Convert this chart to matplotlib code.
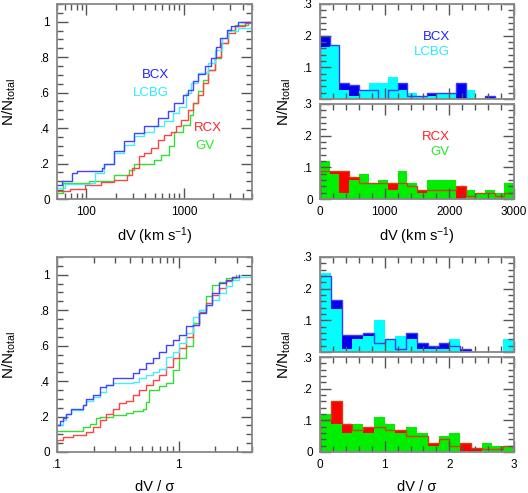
import numpy as np
import matplotlib
matplotlib.use('Agg')
import matplotlib.pyplot as plt
from matplotlib.ticker import MultipleLocator, LogLocator, FuncFormatter, NullFormatter

plt.rcParams['font.family'] = ['Liberation Sans', 'DejaVu Sans']
plt.rcParams['mathtext.fontset'] = 'custom'
plt.rcParams['mathtext.rm'] = 'Liberation Sans'
plt.rcParams['mathtext.it'] = 'Liberation Sans:italic'
plt.rcParams['mathtext.default'] = 'regular'

# ---------------- data: cumulative distributions vs dV (km/s) ----------------
cdf_dv_bcx_x = [50, 56.5, 71, 81, 114, 145, 151, 192, 244, 309, 392, 539, 684, 800, 977, 1100, 1240, 1400, 1640, 1920, 2160, 2340, 2740, 3080, 3610, 5000]
cdf_dv_bcx_y = [0.08, 0.10, 0.147, 0.158, 0.16, 0.175, 0.20, 0.27, 0.325, 0.37, 0.41, 0.457, 0.494, 0.54, 0.588, 0.617, 0.664, 0.707, 0.748, 0.795, 0.86, 0.908, 0.955, 0.977, 0.996, 1.0]
cdf_dv_lcbg_x = [50, 60.6, 110, 124, 151, 192, 244, 309, 392, 498, 632, 770, 902, 1058, 1191, 1400, 1770, 2080, 2440, 2850, 3610, 4970]
cdf_dv_lcbg_y = [0.062, 0.086, 0.09, 0.147, 0.20, 0.26, 0.306, 0.353, 0.38, 0.41, 0.438, 0.485, 0.52, 0.598, 0.654, 0.71, 0.767, 0.84, 0.908, 0.945, 0.966, 0.98]
cdf_dv_rcx_x = [50, 68, 98, 140, 192, 263, 297, 348, 392, 460, 539, 632, 741, 833, 939, 1100, 1240, 1400, 1574, 1772, 2076, 2432, 2850, 3340, 4235, 4970]
cdf_dv_rcx_y = [0.043, 0.056, 0.08, 0.094, 0.11, 0.137, 0.175, 0.24, 0.26, 0.29, 0.335, 0.36, 0.38, 0.41, 0.447, 0.504, 0.54, 0.588, 0.654, 0.73, 0.80, 0.88, 0.936, 0.974, 0.992, 1.0]
cdf_dv_gv_x = [50, 58, 106, 192, 274, 309, 498, 584, 711, 800, 977, 1145, 1240, 1400, 1574, 1772, 2076, 2432, 2850, 3340, 4590]
cdf_dv_gv_y = [0.034, 0.09, 0.10, 0.137, 0.165, 0.20, 0.22, 0.25, 0.30, 0.38, 0.42, 0.475, 0.54, 0.607, 0.673, 0.73, 0.795, 0.88, 0.955, 0.983, 0.996]

# ---------------- data: cumulative distributions vs dV/sigma ----------------
cdf_s_bcx_x = [0.1, 0.105, 0.112, 0.119, 0.131, 0.163, 0.174, 0.197, 0.224, 0.254, 0.288, 0.370, 0.419, 0.475, 0.539, 0.611, 0.693, 0.786, 0.891, 1.01, 1.145, 1.298, 1.472, 1.669, 1.892, 2.145, 2.43, 2.76, 3.13]
cdf_s_bcx_y = [0.151, 0.175, 0.19, 0.217, 0.24, 0.264, 0.30, 0.32, 0.368, 0.377, 0.415, 0.419, 0.443, 0.47, 0.50, 0.528, 0.566, 0.604, 0.632, 0.66, 0.708, 0.717, 0.783, 0.83, 0.896, 0.953, 0.972, 0.99, 1.0]
cdf_s_lcbg_x = [0.1, 0.112, 0.119, 0.131, 0.163, 0.174, 0.197, 0.224, 0.254, 0.288, 0.419, 0.475, 0.539, 0.611, 0.693, 0.786, 0.891, 1.01, 1.145, 1.298, 1.472, 1.669, 1.892, 2.145, 2.43, 2.76, 3.13, 3.9]
cdf_s_lcbg_y = [0.151, 0.18, 0.217, 0.236, 0.264, 0.29, 0.31, 0.34, 0.377, 0.387, 0.396, 0.415, 0.434, 0.453, 0.47, 0.538, 0.566, 0.613, 0.67, 0.764, 0.80, 0.83, 0.858, 0.896, 0.934, 0.972, 0.99, 0.994]
cdf_s_rcx_x = [0.1, 0.112, 0.135, 0.174, 0.197, 0.224, 0.254, 0.288, 0.326, 0.370, 0.419, 0.475, 0.539, 0.611, 0.693, 0.786, 0.891, 1.01, 1.145, 1.298, 1.472, 1.669, 1.892, 2.145, 2.43, 2.76, 3.13]
cdf_s_rcx_y = [0.07, 0.085, 0.094, 0.113, 0.14, 0.18, 0.217, 0.245, 0.274, 0.29, 0.32, 0.35, 0.377, 0.406, 0.434, 0.48, 0.528, 0.585, 0.65, 0.717, 0.79, 0.84, 0.887, 0.925, 0.962, 0.987, 1.0]
cdf_s_gv_x = [0.1, 0.163, 0.185, 0.210, 0.224, 0.288, 0.370, 0.419, 0.506, 0.539, 0.574, 0.693, 0.786, 0.891, 1.01, 1.145, 1.298, 1.472, 1.669, 1.892, 2.145, 2.43, 2.94]
cdf_s_gv_y = [0.12, 0.14, 0.16, 0.19, 0.20, 0.21, 0.22, 0.23, 0.24, 0.28, 0.35, 0.37, 0.39, 0.46, 0.53, 0.60, 0.73, 0.80, 0.88, 0.94, 0.96, 0.98, 1.0]

# ---------------- data: histograms vs dV (bins of 150 km/s) ----------------
hist_dv_edges = np.linspace(0, 3000, 21)
hist_dv_bcx = [0.20, 0.17, 0.05, 0.043, 0.03, 0.03, 0.0, 0.03, 0.05, 0.01, 0.01, 0.02, 0.02, 0.02, 0.05, 0.0, 0.0, 0.01, 0.0, 0.0]
hist_dv_lcbg = [0.165, 0.17, 0.03, 0.01, 0.03, 0.05, 0.05, 0.07, 0.03, 0.02, 0.01, 0.01, 0.02, 0.02, 0.0, 0.03, 0.0, 0.0, 0.0, 0.0]
hist_dv_rcx = [0.09, 0.09, 0.09, 0.07, 0.05, 0.05, 0.05, 0.05, 0.05, 0.04, 0.03, 0.03, 0.03, 0.03, 0.04, 0.01, 0.02, 0.02, 0.01, 0.02]
hist_dv_gv = [0.12, 0.08, 0.02, 0.06, 0.08, 0.05, 0.06, 0.03, 0.09, 0.05, 0.02, 0.06, 0.06, 0.06, 0.0, 0.03, 0.02, 0.03, 0.02, 0.05]

# ---------------- data: histograms vs dV/sigma (bins of 1/6) ----------------
hist_s_edges = np.linspace(0, 3, 19)
hist_s_bcx = [0.24, 0.165, 0.055, 0.055, 0.06, 0.03, 0.04, 0.01, 0.06, 0.03, 0.02, 0.03, 0.02, 0.01, 0.0, 0.0, 0.0, 0.0]
hist_s_lcbg = [0.25, 0.135, 0.01, 0.04, 0.05, 0.10, 0.04, 0.05, 0.04, 0.01, 0.01, 0.01, 0.04, 0.0, 0.0, 0.0, 0.0, 0.04]
hist_s_rcx = [0.10, 0.16, 0.09, 0.07, 0.08, 0.08, 0.07, 0.07, 0.05, 0.05, 0.03, 0.04, 0.02, 0.03, 0.012, 0.01, 0.01, 0.02]
hist_s_gv = [0.12, 0.09, 0.06, 0.09, 0.06, 0.11, 0.09, 0.06, 0.08, 0.06, 0.02, 0.05, 0.06, 0.0, 0.0, 0.03, 0.02, 0.02]

# ---------------- styling ----------------
C_BLUE_LINE = '#4444ff'
C_CYAN_LINE = '#44eeff'
C_RED_LINE = '#ff4444'
C_GREEN_LINE = '#33dd33'
C_BLUE = '#0000ee'
C_CYAN = '#00ffff'
C_RED = '#ff0000'
C_GREEN = '#00ee00'
C_BLUE_OUT = '#3a3aff'
C_RED_OUT = '#cc4411'

W, H = 528, 493
fig = plt.figure(figsize=(W / 100, H / 100), dpi=100)


def px_axes(x0, y0, x1, y1):
    return fig.add_axes([x0 / W, 1 - y1 / H, (x1 - x0) / W, (y1 - y0) / H])


def fmt(v, p):
    if abs(v) < 1e-12:
        return '0'
    s = '%g' % v
    if s.startswith('0.'):
        s = s[1:]
    return s


def style(ax):
    ax.tick_params(which='both', direction='in', top=True, right=True,
                   color='#555555', labelsize=8.5, pad=5)
    ax.tick_params(which='major', length=8, width=1)
    ax.tick_params(which='minor', length=4.5, width=1)
    for s in ax.spines.values():
        s.set_color('#888888')
        s.set_linewidth(1.3)


# ---- top-left CDF vs dV ----
ax1 = px_axes(57, 4, 252, 199)
for xs, ys, c in [(cdf_dv_gv_x, cdf_dv_gv_y, C_GREEN_LINE),
                  (cdf_dv_rcx_x, cdf_dv_rcx_y, C_RED_LINE),
                  (cdf_dv_lcbg_x, cdf_dv_lcbg_y, C_CYAN_LINE),
                  (cdf_dv_bcx_x, cdf_dv_bcx_y, C_BLUE_LINE)]:
    ax1.step(xs, ys, where='post', color=c, lw=1.0)
ax1.set_xscale('log')
ax1.set_xlim(50, 5000)
ax1.set_ylim(0, 1.1)
ax1.xaxis.set_major_locator(LogLocator(base=10, numticks=10))
ax1.xaxis.set_minor_locator(LogLocator(base=10, subs=np.arange(2, 10), numticks=20))
ax1.xaxis.set_major_formatter(FuncFormatter(fmt))
ax1.xaxis.set_minor_formatter(NullFormatter())
ax1.yaxis.set_major_locator(MultipleLocator(0.2))
ax1.yaxis.set_minor_locator(MultipleLocator(0.05))
ax1.yaxis.set_major_formatter(FuncFormatter(fmt))
style(ax1)
ax1.text(0.574, 0.636, 'BCX', color='#2222ff', fontsize=9.5, ha='right', va='center', transform=ax1.transAxes)
ax1.text(0.574, 0.544, 'LCBG', color='#22eeff', fontsize=9.5, ha='right', va='center', transform=ax1.transAxes)
ax1.text(0.703, 0.364, 'RCX', color='#ff2222', fontsize=9.5, ha='left', va='center', transform=ax1.transAxes)
ax1.text(0.708, 0.272, 'GV', color='#22ee22', fontsize=9.5, ha='left', va='center', transform=ax1.transAxes)

# ---- bottom-left CDF vs dV/sigma ----
ax3 = px_axes(57, 257, 252, 452)
for xs, ys, c in [(cdf_s_gv_x, cdf_s_gv_y, C_GREEN_LINE),
                  (cdf_s_rcx_x, cdf_s_rcx_y, C_RED_LINE),
                  (cdf_s_lcbg_x, cdf_s_lcbg_y, C_CYAN_LINE),
                  (cdf_s_bcx_x, cdf_s_bcx_y, C_BLUE_LINE)]:
    ax3.step(xs, ys, where='post', color=c, lw=1.0)
ax3.set_xscale('log')
ax3.set_xlim(0.1, 4)
ax3.set_ylim(0, 1.1)
ax3.xaxis.set_major_locator(LogLocator(base=10, numticks=10))
ax3.xaxis.set_minor_locator(LogLocator(base=10, subs=np.arange(2, 10), numticks=20))
ax3.xaxis.set_major_formatter(FuncFormatter(fmt))
ax3.xaxis.set_minor_formatter(NullFormatter())
ax3.yaxis.set_major_locator(MultipleLocator(0.2))
ax3.yaxis.set_minor_locator(MultipleLocator(0.05))
ax3.yaxis.set_major_formatter(FuncFormatter(fmt))
style(ax3)


def hist_pair(ax, edges, under, over, outline, c_under, c_over, c_out):
    ax.stairs(under, edges, fill=True, color=c_under, lw=0)
    ax.stairs(over, edges, fill=True, color=c_over, lw=0)
    ax.stairs(outline, edges, color=c_out, lw=1.0)


def hist_axes(ax, xmax, major, minor, show_x, show_zero):
    ax.set_xlim(0, xmax)
    ax.set_ylim(0, 0.3)
    ax.xaxis.set_major_locator(MultipleLocator(major))
    ax.xaxis.set_minor_locator(MultipleLocator(minor))
    ax.yaxis.set_major_locator(MultipleLocator(0.1))
    ax.yaxis.set_minor_locator(MultipleLocator(0.02))
    if show_zero:
        ax.yaxis.set_major_formatter(FuncFormatter(fmt))
    else:
        ax.yaxis.set_major_formatter(FuncFormatter(lambda v, p: '' if abs(v) < 1e-9 else fmt(v, p)))
    ax.xaxis.set_major_formatter(FuncFormatter(lambda v, p: '%d' % round(v)))
    style(ax)
    if not show_x:
        ax.tick_params(axis='x', labelbottom=False)


# ---- top-right histograms ----
ax2a = px_axes(320, 4, 514, 99)
hist_pair(ax2a, hist_dv_edges, hist_dv_bcx, hist_dv_lcbg, hist_dv_bcx, C_BLUE, C_CYAN, C_BLUE_OUT)
hist_axes(ax2a, 3000, 1000, 200, False, False)
ax2a.text(0.67, 0.653, 'BCX', color='#2222ff', fontsize=9.5, ha='right', va='center', transform=ax2a.transAxes)
ax2a.text(0.67, 0.495, 'LCBG', color='#22eeff', fontsize=9.5, ha='right', va='center', transform=ax2a.transAxes)

ax2b = px_axes(320, 104, 514, 199)
hist_pair(ax2b, hist_dv_edges, hist_dv_rcx, hist_dv_gv, hist_dv_rcx, C_RED, C_GREEN, C_RED_OUT)
hist_axes(ax2b, 3000, 1000, 200, True, True)
ax2b.text(0.67, 0.653, 'RCX', color='#ff2222', fontsize=9.5, ha='right', va='center', transform=ax2b.transAxes)
ax2b.text(0.665, 0.495, 'GV', color='#22ee22', fontsize=9.5, ha='right', va='center', transform=ax2b.transAxes)

# ---- bottom-right histograms ----
ax4a = px_axes(320, 257, 514, 352)
hist_pair(ax4a, hist_s_edges, hist_s_bcx, hist_s_lcbg, hist_s_bcx, C_BLUE, C_CYAN, C_BLUE_OUT)
hist_axes(ax4a, 3, 1, 0.2, False, False)

ax4b = px_axes(320, 357, 514, 452)
hist_pair(ax4b, hist_s_edges, hist_s_rcx, hist_s_gv, hist_s_rcx, C_RED, C_GREEN, C_RED_OUT)
hist_axes(ax4b, 3, 1, 0.2, True, True)

# ---- axis labels ----
ylab = r'N/N$_{\mathregular{total}}$'
fig.text(9 / W, 1 - 102 / H, ylab, rotation=90, ha='center', va='center', fontsize=11)
fig.text(9 / W, 1 - 355 / H, ylab, rotation=90, ha='center', va='center', fontsize=11)
fig.text(284 / W, 1 - 102 / H, ylab, rotation=90, ha='center', va='center', fontsize=11)
fig.text(284 / W, 1 - 355 / H, ylab, rotation=90, ha='center', va='center', fontsize=11)

xlab1 = r'dV (km s$^{-1}$)'
fig.text(154.5 / W, 1 - 236 / H, xlab1, ha='center', va='center', fontsize=10.5)
fig.text(417 / W, 1 - 236 / H, xlab1, ha='center', va='center', fontsize=10.5)
xlab2 = 'dV / σ'
fig.text(154.5 / W, 1 - 487 / H, xlab2, ha='center', va='center', fontsize=10.5)
fig.text(417 / W, 1 - 487 / H, xlab2, ha='center', va='center', fontsize=10.5)

fig.savefig('out.png', dpi=100)
